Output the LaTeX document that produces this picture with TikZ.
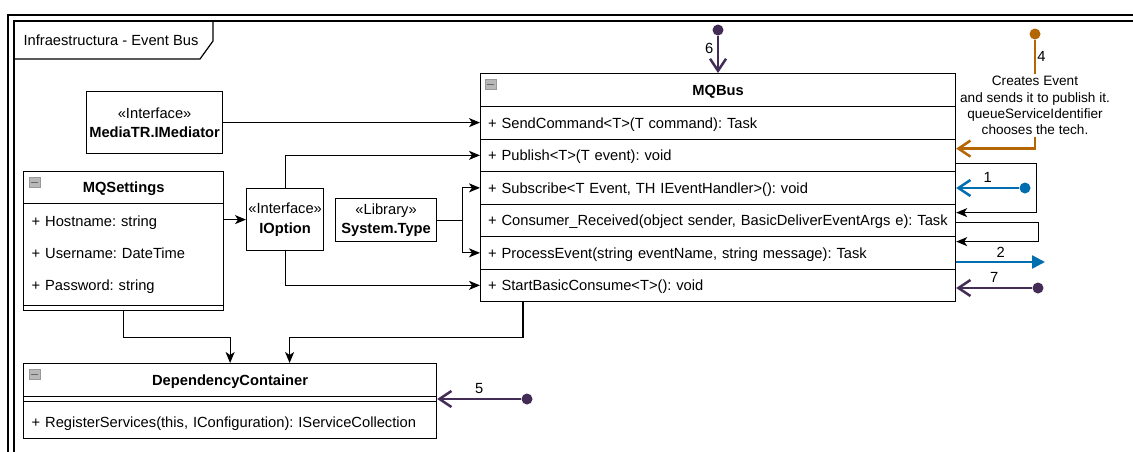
\documentclass[tikz,border=0pt]{standalone}
\usepackage{fontspec}
\setmainfont{Liberation Sans}
\usetikzlibrary{arrows.meta,calc}

\definecolor{flowpurple}{HTML}{432D57}
\definecolor{flowblue}{HTML}{006EAF}
\definecolor{floworange}{HTML}{B46504}

\newcommand{\umlfont}{\fontsize{14.7pt}{17.6pt}\selectfont\frenchspacing}
\newcommand{\stereofont}{\fontsize{14.7pt}{19.4pt}\selectfont\frenchspacing}
\newcommand{\notefont}{\fontsize{13.6pt}{16.3pt}\selectfont\frenchspacing}

\begin{document}
\begin{tikzpicture}[x=1pt,y=-1pt,
  cell/.style={draw=black, line width=1.2pt, anchor=north west, inner sep=0pt, font=\umlfont},
  head/.style={cell, font=\umlfont\bfseries, text height=10.5pt, text depth=0pt},
  busrow/.style={cell, minimum width=475pt, minimum height=32.5pt, inner xsep=7.5pt,
    inner ysep=0pt, text width=460pt, align=left, text height=11pt, text depth=0pt},
  attr/.style={anchor=west, inner ysep=0pt, inner xsep=8.5pt, font=\umlfont, align=left,
    text height=11pt, text depth=0pt},
  stereo/.style={cell, font=\stereofont, align=center},
  icon/.style={anchor=north west, draw=black!40, fill=black!28, line width=0.6pt,
    minimum width=11pt, minimum height=10pt, inner sep=0pt,
    path picture={\draw[black!60, line width=1.5pt]
      ([xshift=2pt]path picture bounding box.west) -- ([xshift=-2pt]path picture bounding box.east);}},
  dep/.style={draw=black, line width=1.2pt, -{Stealth[length=11pt,width=9pt,inset=3pt]}},
  flow/.style={draw=#1, line width=2.5pt, -{Straight Barb[length=12pt,width=16pt]}},
  dot/.style={circle, fill=#1, inner sep=0pt, minimum size=11pt},
  num/.style={font=\umlfont, text=black},
  note/.style={font=\notefont, align=center, inner xsep=2pt, inner ysep=2pt, fill=white}
]
\useasboundingbox (0,0) rectangle (1133,451);
\clip (0,0) rectangle (1133,451);
\fill[white] (0,0) rectangle (1133,451);

% package frame
\draw[line width=2.2pt] (8,470) -- (8,15) -- (1150,15);
\draw[line width=1.3pt] (14,470) -- (14,21) -- (1150,21);
\draw[line width=1.2pt] (14,59) -- (200,59) -- (213,41) -- (213,21);
\node[anchor=west, font=\umlfont, text height=11pt, text depth=0pt] (frameTitle) at (20,40) {Infraestructura - Event Bus};

% MQBus class
\node[head, minimum width=475pt, minimum height=33pt] (bus) at (480,73) {MQBus};
\node[icon] (busIcon) at (485,79) {};
\node[busrow] (bSend) at (480,106) {+ SendCommand<T>(T command): Task};
\node[busrow] (bPub) at (480,138.5) {+ Publish<T>(T event): void};
\node[busrow] (bSub) at (480,171) {+ Subscribe<T Event, TH IEventHandler>(): void};
\node[busrow] (bCons) at (480,203.5) {\mbox{+ Consumer\_Received(object sender, BasicDeliverEventArgs e): Task}};
\node[busrow] (bProc) at (480,236) {+ ProcessEvent(string eventName, string message): Task};
\node[busrow] (bStart) at (480,268.5) {+ StartBasicConsume<T>(): void};

% MQSettings class
\node[head, minimum width=200pt, minimum height=32pt] (set) at (23,171) {MQSettings};
\node[icon] (setIcon) at (29,177) {};
\node[cell, minimum width=200pt, minimum height=102pt] (setAttr) at (23,203) {};
\node[cell, minimum width=200pt, minimum height=5pt] (setOps) at (23,305) {};
\node[attr, text width=183pt] (setHost) at (23,221) {+ Hostname: string};
\node[attr, text width=183pt] (setUser) at (23,253) {+ Username: DateTime};
\node[attr, text width=183pt] (setPass) at (23,285) {+ Password: string};

% DependencyContainer class
\node[head, minimum width=413pt, minimum height=33pt] (dc) at (23,363) {DependencyContainer};
\node[icon] (dcIcon) at (29,369) {};
\node[cell, minimum width=413pt, minimum height=5pt] (dcAttr) at (23,396) {};
\node[cell, minimum width=413pt, minimum height=37pt] (dcOps) at (23,401) {};
\node[attr, text width=396pt] (dcReg) at (23,422) {+ RegisterServices(this, IConfiguration): IServiceCollection};

% interfaces and library
\node[stereo, minimum width=136pt, minimum height=62pt] (med) at (86,91) {«Interface»\\\textbf{MediaTR.IMediator}};
\node[stereo, minimum width=77pt, minimum height=62pt] (iopt) at (246,188) {«Interface»\\\textbf{IOption}};
\node[stereo, minimum width=101pt, minimum height=43pt] (sys) at (335,198) {«Library»\\\textbf{System.Type}};

% dependencies
\draw[dep] (med.east) -- (med.east -| bSend.west);
\draw[dep] (iopt.north) |- (bPub.west);
\draw[dep] (iopt.south) |- (bStart.west);
\draw[dep] (setAttr.east |- iopt.west) -- (iopt.west);
\coordinate (fork) at ($(sys.east)+(25,0)$);
\draw[line width=1.2pt] (sys.east) -- (fork);
\draw[dep] (fork) |- (bSub.west);
\draw[dep] (fork) |- (bProc.west);
\draw[dep] (setOps.south) -- ++(0,26) -| (dc.north);
\draw[dep] ([xshift=43pt]bStart.south west) -- ++(0,35) -| ([xshift=59.5pt]dc.north);

% internal calls
\draw[dep] ([yshift=-8.25pt]bPub.east) -- ++(80,0) |- ([yshift=7.75pt]bCons.east);
\draw[dep] ([yshift=-2.25pt]bCons.east) -- ++(82,0) |- ([yshift=11.25pt]bProc.east);

% numbered flow
\node[dot=flowblue] (d1) at (1025,188) {};
\draw[flow=flowblue] (d1) -- node[num, above=1pt] {1} (d1 -| bSub.east);

\coordinate (e2) at (1045,262);
\draw[flow=flowblue, -{Triangle[length=13pt,width=13pt]}] (bProc.east |- e2) -- node[num, above] {2} (e2);

\node[dot=floworange] (d4) at (1035,34) {};
\node[note] (n4) at (1035,105.5) {Creates Event\\and sends it to publish it.\\queueServiceIdentifier\\chooses the tech.};
\draw[flow=floworange, -] (d4) -- node[num, right, inner xsep=1pt] {4} (n4.north);
\draw[flow=floworange] (n4.south) |- ([yshift=6.75pt]bPub.east);

\node[dot=flowpurple] (d5) at (527,399) {};
\draw[flow=flowpurple] (d5) -- node[num, above=1pt] {5} (d5 -| dcAttr.east);

\node[dot=flowpurple] (d6) at (718,30) {};
\draw[flow=flowpurple] (d6) -- node[num, left, pos=0.33] {6} (d6 |- bus.north);

\node[dot=flowpurple] (d7) at (1038,288) {};
\draw[flow=flowpurple] (d7) -- node[num, above=1pt] {7} (d7 -| bStart.east);
\end{tikzpicture}
\end{document}
